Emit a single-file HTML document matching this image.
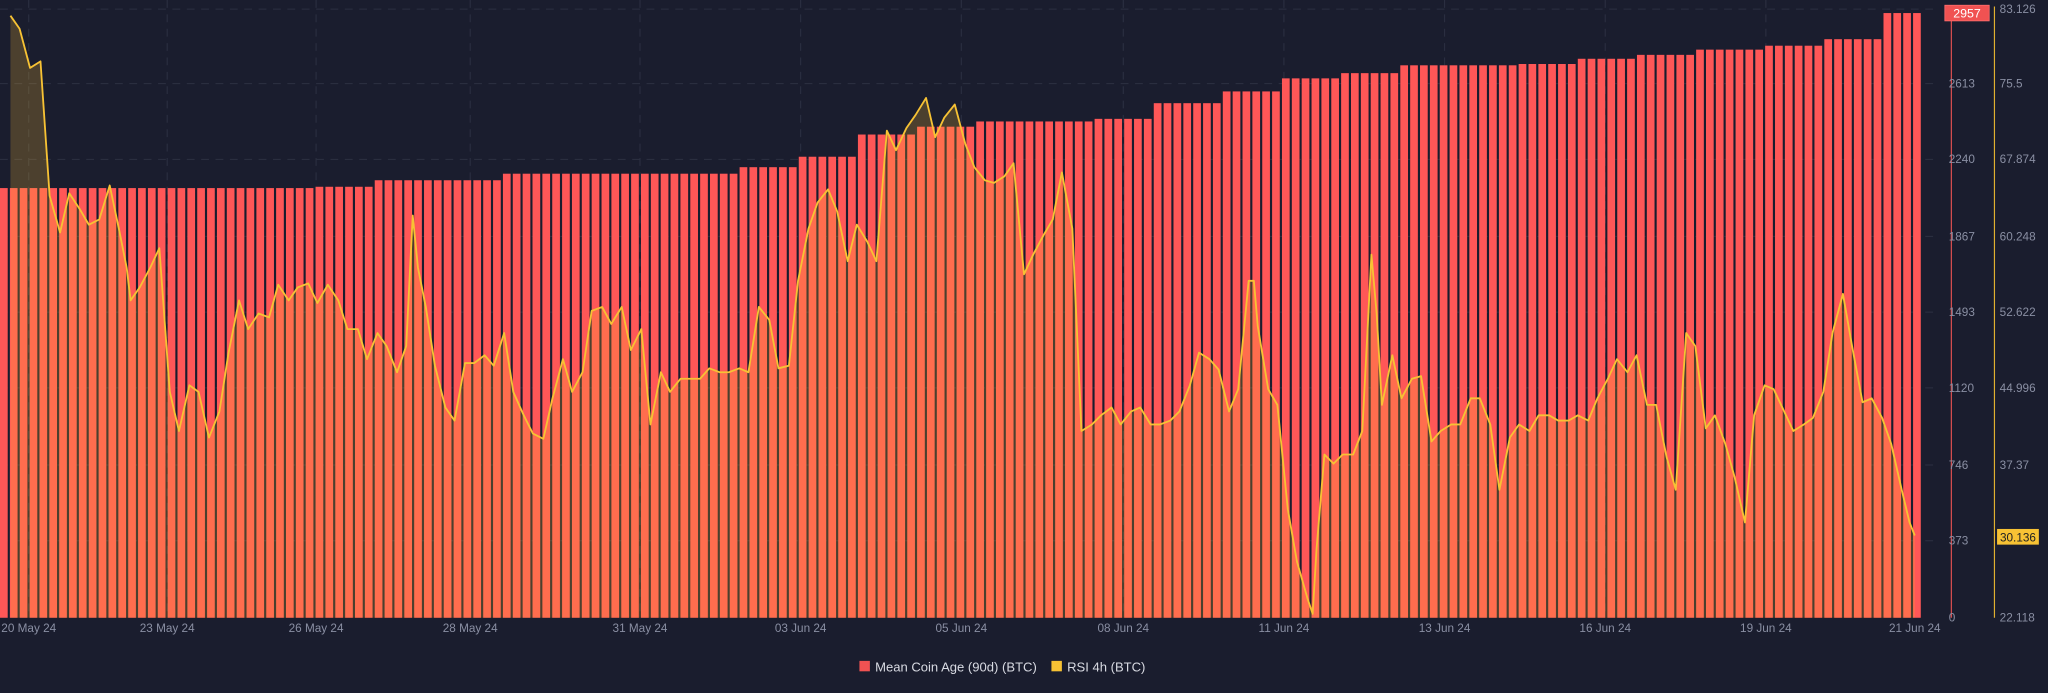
<!DOCTYPE html>
<html><head><meta charset="utf-8"><style>
html,body{margin:0;padding:0;background:#1a1d2e;overflow:hidden}
svg{display:block}
text{font-family:"Liberation Sans",sans-serif}
</style></head><body>
<svg id="c" width="2048" height="693" viewBox="0 0 1568 530.6" preserveAspectRatio="none" xmlns="http://www.w3.org/2000/svg">
<rect width="1568" height="531" fill="#1a1d2e"/>
<g id="grid" stroke="#2c3042" stroke-width="0.8" stroke-dasharray="6,5"></g>
<g id="bars"></g>
<polygon id="area" fill="rgba(255,190,50,0.22)"/>
<polyline id="line" fill="none" stroke="#f7c234" stroke-width="1.4" stroke-linejoin="round"/>
<line x1="1494" y1="5" x2="1494" y2="473" stroke="#e05050" stroke-width="0.9"/>
<line x1="1527" y1="5" x2="1527" y2="473" stroke="#e0b030" stroke-width="0.9"/>
<g id="lab" font-size="9" fill="#8a8fa3"></g>
<rect x="1489" y="4" width="34" height="12" fill="#f05252" stroke="#ff7070" stroke-width="0.6"/>
<text x="1506" y="13.5" font-size="9.5" fill="#fff" text-anchor="middle">2957</text>
<rect x="1529" y="405" width="32" height="12" fill="#f7c234"/>
<text x="1545" y="414.5" font-size="9" fill="#222" text-anchor="middle">30.136</text>
<rect x="658" y="506" width="8" height="8" fill="#f05252"/>
<text x="670" y="514" font-size="10" fill="#d8dae2">Mean Coin Age (90d) (BTC)</text>
<rect x="805" y="506" width="8" height="8" fill="#f7c234"/>
<text x="817" y="514" font-size="10" fill="#d8dae2">RSI 4h (BTC)</text>
</svg>
<script>
var NS="http://www.w3.org/2000/svg";
function el(p,t,a,txt){var e=document.createElementNS(NS,t);for(var k in a)e.setAttribute(k,a[k]);if(txt)e.textContent=txt;p.appendChild(e);return e;}
var grid=document.getElementById('grid'),bars=document.getElementById('bars'),lab=document.getElementById('lab');
var ly=[7,64,122,181,239,297,356,414,473],lv=["2987","2613","2240","1867","1493","1120","746","373","0"],rv=["83.126","75.5","67.874","60.248","52.622","44.996","37.37","30.136","22.118"];
ly.forEach(function(y,i){if(i<8)el(grid,'line',{x1:0,x2:1482,y1:y,y2:y});
 if(i>0)el(lab,'text',{x:1492,y:y+3},lv[i]);
 if(i!=7)el(lab,'text',{x:1531,y:y+3},rv[i]);});
var dx=[22,128,242,360,490,613,736,860,983,1106,1229,1352],dl=["20 May 24","23 May 24","26 May 24","28 May 24","31 May 24","03 Jun 24","05 Jun 24","08 Jun 24","11 Jun 24","13 Jun 24","16 Jun 24","19 Jun 24"];
dx.forEach(function(x,i){el(grid,'line',{x1:x,x2:x,y1:0,y2:473});el(lab,'text',{x:x,y:484,'text-anchor':'middle'},dl[i]);});
el(lab,'text',{x:1466,y:484,'text-anchor':'middle'},"21 Jun 24");
var st=[[240,144],[285,143],[380,138],[565,133],[610,128],[655,120],[700,103],[748,97],[840,93],[885,91],[933,79],[980,70],[1025,60],[1070,56],[1163,50],[1208,49],[1255,45],[1300,42],[1348,38],[1395,35],[1440,30],[1470,10]];
function barTop(x){for(var i=0;i<st.length;i++)if(x<st[i][0])return st[i][1];return 10;}
for(var x=0;x<1466;x+=7.55){var t=barTop(x+2);el(bars,'rect',{x:x.toFixed(2),y:t,width:5.9,height:473-t,fill:'#ff5757'});}
var p=[[8,12],[15,22],[23,52],[31,47],[38,150],[46,178],[53,148],[61,160],[68,172],[76,168],[84,142],[91,175],[97,205],[100,230],[107,220],[115,205],[122,190],[130,300],[137,330],[145,295],[152,300],[160,335],[168,315],[175,270],[183,230],[190,252],[198,240],[206,243],[213,218],[221,230],[228,220],[236,217],[243,232],[251,218],[259,230],[266,252],[274,252],[281,275],[289,255],[296,265],[304,285],[311,265],[316,165],[320,205],[326,235],[333,280],[341,312],[348,322],[356,278],[363,278],[371,272],[378,280],[386,255],[393,300],[401,318],[408,332],[416,336],[423,305],[431,275],[438,300],[446,285],[453,238],[461,235],[468,248],[476,235],[483,268],[491,252],[498,325],[506,285],[513,300],[521,290],[528,290],[536,290],[543,282],[551,285],[558,285],[566,282],[573,285],[581,235],[589,245],[596,282],[604,280],[611,215],[619,175],[626,155],[634,145],[641,162],[649,200],[656,172],[664,185],[671,200],[679,100],[686,115],[694,98],[701,88],[709,75],[716,105],[723,90],[731,80],[739,110],[746,128],[754,138],[761,140],[769,135],[776,125],[784,210],[791,195],[799,180],[806,168],[813,132],[821,175],[828,330],[836,325],[843,318],[851,312],[858,325],[866,315],[873,312],[881,325],[888,325],[896,322],[903,315],[911,295],[918,270],[926,275],[933,283],[941,315],[948,298],[956,215],[960,215],[963,250],[971,298],[978,310],[986,390],[993,430],[1001,458],[1005,470],[1008,420],[1014,348],[1021,355],[1028,348],[1036,348],[1043,330],[1050,195],[1054,240],[1058,310],[1066,272],[1073,305],[1081,290],[1088,288],[1096,338],[1103,330],[1111,325],[1118,325],[1126,305],[1133,305],[1141,325],[1148,375],[1156,335],[1163,325],[1171,330],[1178,318],[1186,318],[1193,322],[1201,322],[1208,318],[1216,322],[1223,305],[1231,290],[1238,275],[1246,285],[1253,272],[1261,310],[1268,310],[1276,350],[1283,375],[1291,255],[1298,265],[1306,328],[1313,318],[1321,340],[1328,365],[1336,400],[1343,318],[1351,295],[1358,298],[1366,315],[1373,330],[1381,325],[1388,320],[1396,300],[1403,255],[1411,225],[1418,265],[1426,308],[1433,305],[1441,320],[1448,340],[1456,375],[1462,400],[1466,410]];
var s=p.map(function(a){return a[0]+','+a[1];}).join(' ');
document.getElementById('line').setAttribute('points',s);
document.getElementById('area').setAttribute('points',s+' 1466,473 8,473');
</script>
</body></html>
